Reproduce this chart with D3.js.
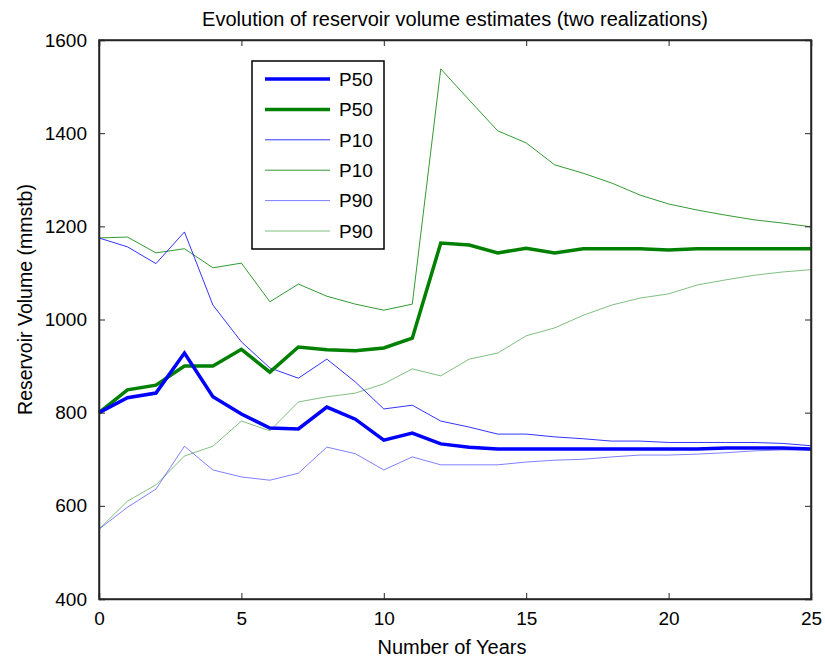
<!DOCTYPE html>
<html>
<head>
<meta charset="utf-8">
<script src="https://cdn.jsdelivr.net/npm/d3@7"></script>
<style>
  body { margin: 0; background: #fff; }
  text { font-family: "Liberation Sans", Arial, sans-serif; fill: #000; }
</style>
</head>
<body>
<svg id="chart" width="825" height="659"></svg>
<script>
var years = d3.range(0, 26);

var p50Blue = [800, 832, 842, 928, 834, 797, 767, 765, 812, 786, 741, 756, 733, 726, 722, 722, 722, 722, 722, 722, 722, 722, 724, 724, 724, 722];
var p50Green = [800, 849, 859, 900, 900, 936, 887, 941, 935, 933, 939, 960, 1164, 1160, 1143, 1153, 1143, 1152, 1152, 1152, 1149, 1152, 1152, 1152, 1152, 1152];
var p10Blue = [1175, 1156, 1120, 1188, 1031, 952, 896, 874, 915, 866, 808, 816, 782, 769, 754, 754, 748, 744, 739, 739, 736, 736, 736, 736, 734, 729];
var p10Green = [1175, 1177, 1143, 1152, 1111, 1121, 1038, 1076, 1050, 1033, 1020, 1033, 1538, 1471, 1405, 1379, 1332, 1314, 1293, 1267, 1248, 1235, 1224, 1214, 1207, 1199];
var p90Blue = [550, 597, 636, 728, 677, 662, 655, 670, 726, 712, 677, 705, 688, 688, 688, 694, 698, 700, 705, 709, 709, 711, 714, 718, 720, 720];
var p90Green = [550, 610, 645, 707, 728, 782, 761, 823, 834, 842, 862, 894, 879, 915, 928, 965, 982, 1009, 1031, 1046, 1055, 1074, 1085, 1095, 1102, 1107];

var xTicks = [0, 5, 10, 15, 20, 25];
var yTicks = [400, 600, 800, 1000, 1200, 1400, 1600];

var series = [
  {name: "P50", values: p50Blue, color: "#0000ff", width: 3.5, opacity: 1},
  {name: "P50", values: p50Green, color: "#008000", width: 3.5, opacity: 1},
  {name: "P10", values: p10Blue, color: "#0000ff", width: 1, opacity: 0.8},
  {name: "P10", values: p10Green, color: "#008000", width: 1, opacity: 0.8},
  {name: "P90", values: p90Blue, color: "#0000ff", width: 1, opacity: 0.5},
  {name: "P90", values: p90Green, color: "#008000", width: 1, opacity: 0.5}
];

var margin = {top: 40, right: 14, bottom: 60, left: 99},
  width = 825 - margin.left - margin.right,
  height = 659 - margin.top - margin.bottom;

var svg = d3.select("#chart")
  .append("g")
  .attr("transform", "translate(" + margin.left + "," + margin.top + ")");

var x = d3.scaleLinear().domain([0, 25]).range([0, width]);
var y = d3.scaleLinear().domain([400, 1600]).range([height, 0]);

var line = d3.line()
  .x(function(d, i) { return x(years[i]); })
  .y(function(d) { return y(d); });

// thin lines first, thick on top
var order = [5, 4, 3, 2, 1, 0];
order.forEach(function(k) {
  var s = series[k];
  svg.append("path")
    .datum(s.values)
    .attr("fill", "none")
    .attr("stroke", s.color)
    .attr("stroke-width", s.width)
    .attr("stroke-opacity", s.opacity)
    .attr("d", line);
});

// axes, ticks inward like matlab
var xAxis = d3.axisBottom(x).tickValues(xTicks).tickSize(-6).tickPadding(13);
var yAxis = d3.axisLeft(y).tickValues(yTicks).tickSize(-6).tickPadding(12).tickFormat(d3.format("d"));

var gx = svg.append("g")
  .attr("class", "x-axis")
  .attr("transform", "translate(0," + height + ")")
  .call(xAxis);
var gy = svg.append("g")
  .attr("class", "y-axis")
  .call(yAxis);

svg.append("g")
  .call(d3.axisTop(x).tickValues(xTicks).tickSize(-6).tickFormat(""));
svg.append("g")
  .attr("transform", "translate(" + width + ",0)")
  .call(d3.axisRight(y).tickValues(yTicks).tickSize(-6).tickFormat(""));

svg.selectAll(".domain").attr("stroke", "#262626").attr("stroke-width", 1.5);
svg.selectAll(".tick line").attr("stroke", "#262626");
svg.selectAll(".tick text").style("font-size", "19px").attr("fill", "#000");
svg.selectAll("g").attr("font-size", null).attr("font-family", null);

svg.append("rect")
  .attr("width", width).attr("height", height)
  .attr("fill", "none").attr("stroke", "#262626").attr("stroke-width", 1.5);

// title + labels
svg.append("text")
  .attr("x", width / 2).attr("y", -14)
  .attr("text-anchor", "middle")
  .style("font-size", "20px")
  .text("Evolution of reservoir volume estimates (two realizations)");

svg.append("text")
  .attr("x", width / 2 - 3).attr("y", height + 55)
  .attr("text-anchor", "middle")
  .style("font-size", "20px")
  .text("Number of Years");

svg.append("text")
  .attr("transform", "translate(" + (-67) + "," + (height / 2 - 20) + ") rotate(-90)")
  .attr("text-anchor", "middle")
  .style("font-size", "19.5px")
  .text("Reservoir Volume (mmstb)");

// legend
var legend = svg.append("g")
  .attr("transform", "translate(" + (252 - margin.left) + "," + (61 - margin.top) + ")");

legend.append("rect")
  .attr("width", 132).attr("height", 188)
  .attr("fill", "#fff").attr("stroke", "#000").attr("stroke-width", 1.5);

series.forEach(function(s, i) {
  var ly = 18 + i * 30.4;
  legend.append("line")
    .attr("x1", 13).attr("x2", 78)
    .attr("y1", ly).attr("y2", ly)
    .attr("stroke", s.color)
    .attr("stroke-width", s.width)
    .attr("stroke-opacity", s.opacity);
  legend.append("text")
    .attr("x", 87).attr("y", ly)
    .attr("dy", "0.36em")
    .style("font-size", "19px")
    .text(s.name);
});
</script>
</body>
</html>
